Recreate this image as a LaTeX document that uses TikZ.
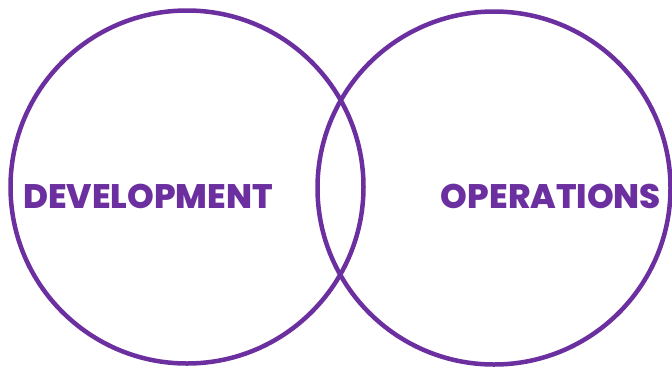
\documentclass[tikz,border=0pt]{standalone}
\usepackage{fontspec}
\setmainfont{Poppins}[UprightFont={* Bold},BoldFont={* ExtraBold}]
\definecolor{devpurple}{HTML}{6B2FA0}
\begin{document}
\begin{tikzpicture}[x=1pt,y=-1pt,
  ring/.style={circle,draw=devpurple,line width=4.5pt,minimum size=353pt,inner sep=0pt},
  label/.style={text=devpurple,font=\bfseries\fontsize{34}{36}\selectfont,inner sep=0pt,anchor=center}]
\useasboundingbox (0,0) rectangle (672,368);
\node[ring] (dev) at (187,187) {};
\node[ring] (ops) at (494,188) {};
\node[label] (devtext) at (148,196) {DEVELOPMENT};
\node[label] (opstext) at (551,196) {OPERATIONS};
\end{tikzpicture}
\end{document}
